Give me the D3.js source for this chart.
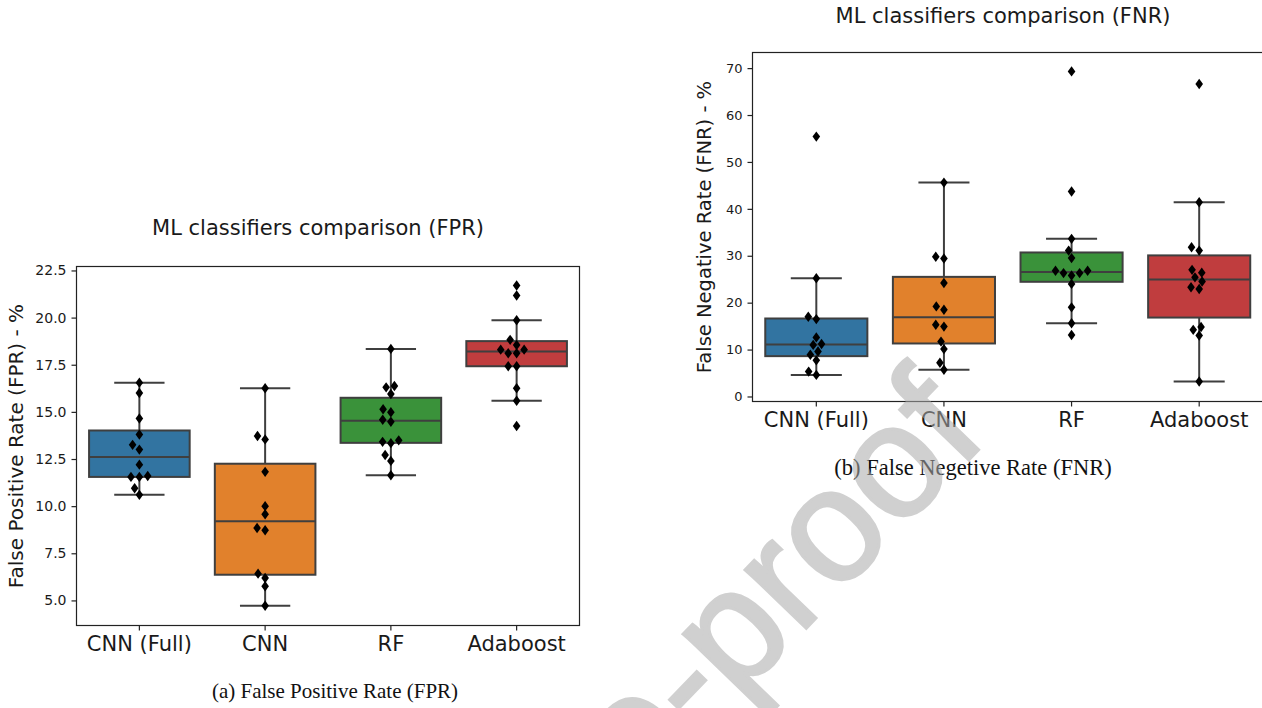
<!DOCTYPE html>
<html>
<head>
<meta charset="utf-8" />
<script src="https://d3js.org/d3.v7.min.js"></script>
<style>
  body { margin: 0; background: #fff; }
  svg { display: block; }
  text { font-family: "DejaVu Sans", sans-serif; fill: #1a1a1a; }
  .caption { font-family: "Liberation Serif", "Times New Roman", serif; fill: #111; }
  .watermark { font-family: "Liberation Sans", Arial, sans-serif; fill: #aaa; stroke: #aaa; stroke-width: 3; opacity: 0.55; }
</style>
</head>
<body>
<script>
  var categories = ["CNN (Full)", "CNN", "RF", "Adaboost"];
  var colors = ["#3274a1", "#e1812c", "#3a923a", "#c03d3e"];

  // false positive rate (%) per run
  var fprCnnFull = [16.55, 16.0, 14.65, 13.8, 13.25, 13.0, 12.2, 11.55, 11.55, 11.6, 10.95, 10.6];
  var fprCnn = [16.25, 13.72, 13.54, 11.82, 10.0, 9.57, 8.84, 8.72, 6.42, 6.19, 5.75, 4.72];
  var fprRf = [18.34, 16.3, 16.37, 15.95, 15.14, 14.98, 14.58, 14.48, 13.41, 13.34, 13.49, 12.71, 12.4, 11.64];
  var fprAda = [21.7, 21.17, 19.86, 18.82, 18.55, 18.3, 18.3, 18.11, 18.11, 17.42, 17.42, 16.25, 15.59, 14.25];

  // false negative rate (%) per run
  var fnrCnnFull = [55.4, 25.2, 17.0, 16.5, 12.6, 11.0, 11.2, 9.6, 8.9, 7.7, 5.3, 4.6];
  var fnrCnn = [45.6, 29.8, 29.4, 24.2, 19.2, 18.5, 15.3, 14.9, 11.7, 10.1, 7.2, 5.7];
  var fnrRf = [69.3, 43.7, 33.6, 31.1, 29.5, 26.8, 26.8, 26.3, 26.3, 25.8, 24.0, 19.0, 15.6, 13.1];
  var fnrAda = [66.6, 41.4, 31.8, 31.1, 27.0, 26.4, 25.4, 24.5, 23.3, 22.9, 14.8, 14.2, 13.0, 3.2];

  var fprTicks = [5.0, 7.5, 10.0, 12.5, 15.0, 17.5, 20.0, 22.5];
  var fnrTicks = [0, 10, 20, 30, 40, 50, 60, 70];

  var width = 1262, height = 708;

  var svg = d3.select("body").append("svg")
    .attr("width", width)
    .attr("height", height);

  // thin diamond, like matplotlib's "d" marker
  function diamond(w, h) {
    return "M0," + (-h) + "L" + w + ",0L0," + h + "L" + (-w) + ",0Z";
  }

  // simple beeswarm: place points by value, nearest free slot to the centre
  function swarm(values, y, d) {
    var pts = values.map(function (v) { return { v: v, y: y(v) }; })
      .sort(function (a, b) { return a.v - b.v; });
    var placed = [];
    pts.forEach(function (p) {
      var near = placed.filter(function (q) { return Math.abs(q.y - p.y) < d; });
      var cands = [0];
      var leftFirst = true;
      near.forEach(function (q) {
        var dx = Math.sqrt(Math.max(d * d - (q.y - p.y) * (q.y - p.y), 0)) * 1.05;
        if (leftFirst) cands.push(q.x - dx, q.x + dx);
        else cands.push(q.x + dx, q.x - dx);
        leftFirst = !leftFirst;
      });
      cands.sort(function (a, b) { return Math.abs(a) - Math.abs(b); });
      p.x = cands.find(function (c) {
        return near.every(function (q) { return Math.hypot(q.x - c, q.y - p.y) >= d - 1e-6; });
      });
      placed.push(p);
    });
    return pts;
  }

  function boxStats(values) {
    var s = values.slice().sort(d3.ascending);
    var q1 = d3.quantile(s, 0.25), med = d3.quantile(s, 0.5), q3 = d3.quantile(s, 0.75);
    var iqr = q3 - q1;
    var lo = d3.min(s.filter(function (v) { return v >= q1 - 1.5 * iqr; }));
    var hi = d3.max(s.filter(function (v) { return v <= q3 + 1.5 * iqr; }));
    return { q1: q1, med: med, q3: q3, lo: lo, hi: hi };
  }

  function drawPanel(cfg) {
    var g = svg.append("g");
    var x = d3.scaleBand().domain(categories).range([cfg.left, cfg.right]);
    var y = d3.scaleLinear().domain(cfg.yDomain).range([cfg.bottom, cfg.top]);
    var bw = x.bandwidth() * 0.8;
    var edge = "#3f3f3f";

    cfg.series.forEach(function (vals, i) {
      var cx = x(categories[i]) + x.bandwidth() / 2;
      var st = boxStats(vals);
      var b = g.append("g");
      b.append("line")
        .attr("x1", cx).attr("x2", cx)
        .attr("y1", y(st.hi)).attr("y2", y(st.q3))
        .attr("stroke", edge).attr("stroke-width", 2);
      b.append("line")
        .attr("x1", cx).attr("x2", cx)
        .attr("y1", y(st.q1)).attr("y2", y(st.lo))
        .attr("stroke", edge).attr("stroke-width", 2);
      [st.hi, st.lo].forEach(function (v) {
        b.append("line")
          .attr("x1", cx - bw / 4).attr("x2", cx + bw / 4)
          .attr("y1", y(v)).attr("y2", y(v))
          .attr("stroke", edge).attr("stroke-width", 2);
      });
      b.append("rect")
        .attr("x", cx - bw / 2).attr("width", bw)
        .attr("y", y(st.q3)).attr("height", y(st.q1) - y(st.q3))
        .attr("fill", colors[i])
        .attr("stroke", edge).attr("stroke-width", 2);
      b.append("line")
        .attr("x1", cx - bw / 2).attr("x2", cx + bw / 2)
        .attr("y1", y(st.med)).attr("y2", y(st.med))
        .attr("stroke", edge).attr("stroke-width", 2);

      b.selectAll("path.pt")
        .data(swarm(vals, y, 8))
        .join("path")
        .attr("class", "pt")
        .attr("d", diamond(3.8, 5.2))
        .attr("transform", function (d) { return "translate(" + (cx + d.x) + "," + d.y + ")"; })
        .attr("fill", "#000");
    });

    // frame
    g.append("rect")
      .attr("x", cfg.left).attr("y", cfg.top)
      .attr("width", cfg.right - cfg.left).attr("height", cfg.bottom - cfg.top)
      .attr("fill", "none").attr("stroke", "#222").attr("stroke-width", 1.2);

    var ya = g.append("g")
      .attr("transform", "translate(" + cfg.left + ",0)")
      .call(d3.axisLeft(y).tickValues(cfg.ticks).tickFormat(cfg.fmt).tickSize(5).tickPadding(5));
    ya.select(".domain").remove();
    ya.selectAll("line").attr("stroke", "#222").attr("stroke-width", 1.2);
    ya.selectAll("text").style("font-size", cfg.yTickSize + "px").style("font-family", "DejaVu Sans").attr("fill", "#1a1a1a");

    var xa = g.append("g")
      .attr("transform", "translate(0," + cfg.bottom + ")")
      .call(d3.axisBottom(x).tickSize(5).tickPadding(6));
    xa.select(".domain").remove();
    xa.selectAll("line").attr("stroke", "#222").attr("stroke-width", 1.2);
    xa.selectAll("text").style("font-size", "21px").style("font-family", "DejaVu Sans").attr("fill", "#1a1a1a");

    g.append("text")
      .attr("x", cfg.titleX).attr("y", cfg.titleY)
      .attr("text-anchor", "middle")
      .style("font-size", "21px")
      .text(cfg.title);

    g.append("text")
      .attr("transform", "translate(" + cfg.labelX + "," + (cfg.top + cfg.bottom) / 2 + ") rotate(-90)")
      .attr("text-anchor", "middle")
      .style("font-size", cfg.labelSize + "px")
      .text(cfg.label);

    g.append("text")
      .attr("class", "caption")
      .attr("x", cfg.capX).attr("y", cfg.capY)
      .attr("text-anchor", "middle")
      .style("font-size", cfg.capSize + "px")
      .text(cfg.caption);
  }

  drawPanel({
    left: 76.5, right: 579.5, top: 266.5, bottom: 625.5,
    yDomain: [3.67, 22.71], ticks: fprTicks, fmt: d3.format(".1f"), yTickSize: 14,
    series: [fprCnnFull, fprCnn, fprRf, fprAda],
    title: "ML classifiers comparison (FPR)", titleX: 318, titleY: 235,
    label: "False Positive Rate (FPR) - %", labelX: 23, labelSize: 20,
    caption: "(a) False Positive Rate (FPR)", capX: 335, capY: 698, capSize: 21
  });

  drawPanel({
    left: 752.5, right: 1263, top: 52.5, bottom: 401.5,
    yDomain: [-1.07, 73.33], ticks: fnrTicks, fmt: d3.format("d"), yTickSize: 13,
    series: [fnrCnnFull, fnrCnn, fnrRf, fnrAda],
    title: "ML classifiers comparison (FNR)", titleX: 1003, titleY: 23,
    label: "False Negative Rate (FNR) - %", labelX: 711, labelSize: 19.5,
    caption: "(b) False Negetive Rate (FNR)", capX: 973, capY: 475, capSize: 22.5
  });

  // journal watermark running across the page
  svg.append("text")
    .attr("class", "watermark")
    .attr("transform", "translate(990,438) rotate(-46)")
    .attr("text-anchor", "end")
    .style("font-size", "160px")
    .text("Journal Pre-proof");
</script>
</body>
</html>
